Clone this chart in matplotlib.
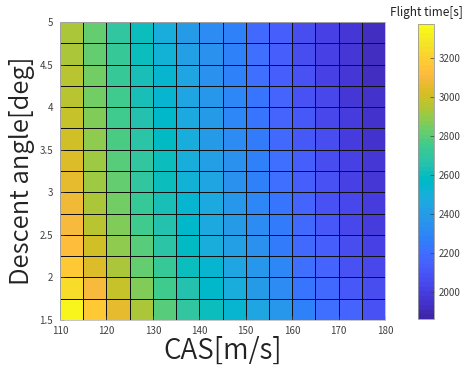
import numpy as np
import matplotlib
matplotlib.use("Agg")
import matplotlib.pyplot as plt
from matplotlib.colors import ListedColormap

plt.rcParams['font.family'] = ['Noto Sans CJK JP', 'DejaVu Sans']

# Grid edges
cas_edges = [110, 115, 120, 125, 130, 135, 140, 145, 150, 155, 160, 165, 170, 175, 180]
angle_edges = [1.5, 1.75, 2.0, 2.25, 2.5, 2.75, 3.0, 3.25, 3.5, 3.75, 4.0, 4.25, 4.5, 4.75, 5.0]

# Flight time [s] per cell, rows = descent angle (bottom to top), cols = CAS
row_150 = [3345, 3180, 3065, 2935, 2800, 2700, 2600, 2535, 2445, 2365, 2282, 2200, 2150, 2085]
row_175 = [3245, 3105, 2995, 2870, 2755, 2660, 2565, 2480, 2385, 2318, 2240, 2175, 2117, 2058]
row_200 = [3170, 3040, 2930, 2820, 2715, 2615, 2530, 2450, 2360, 2290, 2215, 2150, 2090, 2035]
row_225 = [3130, 3000, 2890, 2785, 2680, 2585, 2500, 2420, 2335, 2262, 2192, 2128, 2068, 2015]
row_250 = [3095, 2970, 2860, 2755, 2655, 2560, 2475, 2395, 2315, 2242, 2172, 2108, 2050, 1998]
row_275 = [3070, 2945, 2835, 2730, 2630, 2540, 2455, 2375, 2296, 2225, 2156, 2092, 2035, 1985]
row_300 = [3050, 2925, 2815, 2710, 2615, 2520, 2438, 2358, 2282, 2210, 2140, 2078, 2020, 1973]
row_325 = [3030, 2905, 2795, 2690, 2595, 2500, 2420, 2342, 2265, 2195, 2125, 2065, 2008, 1962]
row_350 = [3010, 2885, 2775, 2670, 2575, 2482, 2402, 2325, 2250, 2182, 2112, 2052, 1998, 1952]
row_375 = [2990, 2865, 2760, 2655, 2558, 2465, 2386, 2310, 2235, 2168, 2100, 2042, 1988, 1943]
row_400 = [2970, 2850, 2745, 2640, 2542, 2450, 2370, 2296, 2222, 2156, 2090, 2033, 1980, 1933]
row_425 = [2955, 2835, 2730, 2627, 2527, 2435, 2356, 2284, 2210, 2145, 2081, 2025, 1973, 1925]
row_450 = [2945, 2822, 2718, 2615, 2512, 2420, 2343, 2274, 2198, 2135, 2073, 2020, 1968, 1918]
row_475 = [2935, 2810, 2710, 2605, 2500, 2405, 2330, 2265, 2188, 2127, 2066, 2016, 1965, 1912]

flight_time = np.array([row_150, row_175, row_200, row_225, row_250, row_275, row_300,
                        row_325, row_350, row_375, row_400, row_425, row_450, row_475])

color_min = 1862
color_max = 3375

x_ticks = [110, 120, 130, 140, 150, 160, 170, 180]
y_ticks = [1.5, 2, 2.5, 3, 3.5, 4, 4.5, 5]
y_ticklabels = ['1.5', '2', '2.5', '3', '3.5', '4', '4.5', '5']
cbar_ticks = [2000, 2200, 2400, 2600, 2800, 3000, 3200]

parula_data = [
    [0.2422, 0.1504, 0.6603], [0.2504, 0.1650, 0.7076], [0.2578, 0.1818, 0.7511], [0.2647, 0.1978, 0.7952],
    [0.2706, 0.2147, 0.8364], [0.2751, 0.2342, 0.8710], [0.2783, 0.2559, 0.8991], [0.2803, 0.2782, 0.9221],
    [0.2813, 0.3006, 0.9414], [0.2810, 0.3228, 0.9579], [0.2795, 0.3447, 0.9717], [0.2760, 0.3667, 0.9829],
    [0.2699, 0.3892, 0.9906], [0.2602, 0.4123, 0.9952], [0.2440, 0.4358, 0.9988], [0.2206, 0.4603, 0.9973],
    [0.1963, 0.4847, 0.9892], [0.1834, 0.5074, 0.9798], [0.1786, 0.5289, 0.9682], [0.1764, 0.5499, 0.9520],
    [0.1687, 0.5703, 0.9359], [0.1540, 0.5902, 0.9218], [0.1460, 0.6091, 0.9079], [0.1380, 0.6276, 0.8973],
    [0.1248, 0.6459, 0.8883], [0.1113, 0.6635, 0.8763], [0.0952, 0.6798, 0.8598], [0.0689, 0.6948, 0.8394],
    [0.0297, 0.7082, 0.8163], [0.0036, 0.7203, 0.7917], [0.0067, 0.7312, 0.7660], [0.0433, 0.7411, 0.7394],
    [0.0964, 0.7500, 0.7120], [0.1408, 0.7584, 0.6842], [0.1717, 0.7670, 0.6554], [0.1938, 0.7758, 0.6251],
    [0.2161, 0.7843, 0.5923], [0.2470, 0.7918, 0.5567], [0.2906, 0.7973, 0.5188], [0.3406, 0.8008, 0.4789],
    [0.3909, 0.8029, 0.4354], [0.4456, 0.8024, 0.3909], [0.5044, 0.7993, 0.3480], [0.5616, 0.7942, 0.3045],
    [0.6174, 0.7876, 0.2612], [0.6720, 0.7793, 0.2227], [0.7242, 0.7698, 0.1910], [0.7738, 0.7598, 0.1646],
    [0.8203, 0.7498, 0.1535], [0.8634, 0.7406, 0.1596], [0.9035, 0.7330, 0.1774], [0.9393, 0.7288, 0.2100],
    [0.9728, 0.7298, 0.2394], [0.9956, 0.7434, 0.2371], [0.9970, 0.7659, 0.2199], [0.9952, 0.7893, 0.2028],
    [0.9892, 0.8136, 0.1885], [0.9786, 0.8386, 0.1766], [0.9676, 0.8639, 0.1643], [0.9610, 0.8890, 0.1537],
    [0.9597, 0.9135, 0.1423], [0.9628, 0.9373, 0.1265], [0.9691, 0.9606, 0.1064], [0.9769, 0.9839, 0.0805],
]
parula = ListedColormap(parula_data, name='parula')

fig = plt.figure(figsize=(4.71, 3.67), dpi=100)
ax = fig.add_axes([0.1274, 0.128, 0.690, 0.812])
cax = fig.add_axes([0.8875, 0.131, 0.034, 0.804])

mesh = ax.pcolormesh(cas_edges, angle_edges, flight_time, cmap=parula,
                     vmin=color_min, vmax=color_max, edgecolor='#111111', linewidth=0.7)
ax.set_xlim(110, 180)
ax.set_ylim(1.5, 5)
ax.set_xticks(x_ticks)
ax.set_yticks(y_ticks)
ax.set_yticklabels(y_ticklabels)
ax.tick_params(direction='in', length=3, labelsize=7, colors='#404040', width=0.5)
ax.tick_params(axis='x', pad=4)
ax.tick_params(axis='y', pad=5)
for s in ax.spines.values():
    s.set_color('#bbbbbb')
    s.set_linewidth(0.6)

ax.set_xlabel('CAS[m/s]', fontsize=20, color='#222222', labelpad=0, fontweight=350)
ax.set_ylabel('Descent angle[deg]', fontsize=18.5, color='#222222', labelpad=3, fontweight=350)

cb = fig.colorbar(mesh, cax=cax)
cb.set_ticks(cbar_ticks)
cb.ax.tick_params(direction='in', length=3, labelsize=7, colors='#404040', width=0.5)
cb.outline.set_edgecolor('#999999')
cb.outline.set_linewidth(0.6)
cax.set_title('Flight time[s]', fontsize=8.5, color='#222222', pad=6)

fig.savefig('out.png', dpi=100)
